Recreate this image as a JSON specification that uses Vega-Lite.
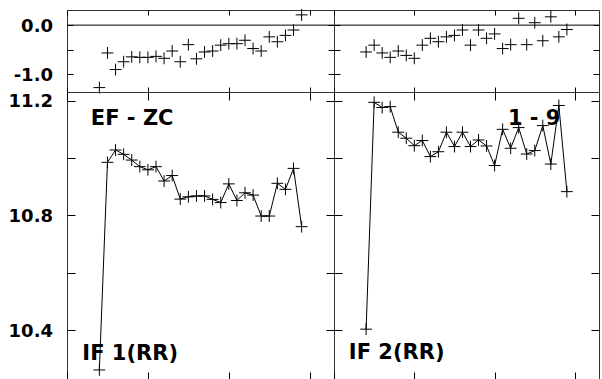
{
  "$schema": "https://vega.github.io/schema/vega-lite/v6.json",
  "background": "white",
  "padding": {"left": 7, "top": 6, "right": 2, "bottom": 0},
  "columns": 2,
  "spacing": 0,
  "bounds": "flush",
  "config": {
    "view": {"stroke": "#333", "strokeWidth": 1},
    "axis": {"domain": false, "grid": false, "tickColor": "black", "tickWidth": 1, "labelFont": "DejaVu Sans", "labelFontWeight": "bold", "labelFontSize": 18, "labelColor": "black", "minExtent": 0, "labelOverlap": false, "labelFlush": false}
  },
  "datasets": {
    "tl": [
      {"x": 4, "y": -1.28}, {"x": 5, "y": -0.57}, {"x": 6, "y": -0.91}, {"x": 7, "y": -0.75}, {"x": 8, "y": -0.65},
      {"x": 9, "y": -0.66}, {"x": 10, "y": -0.66}, {"x": 11, "y": -0.64}, {"x": 12, "y": -0.68}, {"x": 13, "y": -0.53},
      {"x": 14, "y": -0.75}, {"x": 15, "y": -0.40}, {"x": 16, "y": -0.69}, {"x": 17, "y": -0.55}, {"x": 18, "y": -0.53},
      {"x": 19, "y": -0.41}, {"x": 20, "y": -0.38}, {"x": 21, "y": -0.38}, {"x": 22, "y": -0.31}, {"x": 23, "y": -0.48},
      {"x": 24, "y": -0.53}, {"x": 25, "y": -0.24}, {"x": 26, "y": -0.34}, {"x": 27, "y": -0.21}, {"x": 28, "y": -0.10},
      {"x": 29, "y": 0.21}
    ],
    "tr": [
      {"x": 4, "y": -0.55}, {"x": 5, "y": -0.41}, {"x": 6, "y": -0.57}, {"x": 7, "y": -0.66}, {"x": 8, "y": -0.53},
      {"x": 9, "y": -0.62}, {"x": 10, "y": -0.68}, {"x": 11, "y": -0.41}, {"x": 12, "y": -0.27}, {"x": 13, "y": -0.34},
      {"x": 14, "y": -0.24}, {"x": 15, "y": -0.21}, {"x": 16, "y": -0.10}, {"x": 17, "y": -0.41}, {"x": 18, "y": -0.10},
      {"x": 19, "y": -0.27}, {"x": 20, "y": -0.18}, {"x": 21, "y": -0.48}, {"x": 22, "y": -0.40}, {"x": 23, "y": 0.14},
      {"x": 24, "y": -0.40}, {"x": 25, "y": 0.05}, {"x": 26, "y": -0.32}, {"x": 27, "y": 0.17}, {"x": 28, "y": -0.24},
      {"x": 29, "y": -0.09}
    ],
    "bl": [
      {"x": 4, "y": 10.262}, {"x": 5, "y": 10.985}, {"x": 6, "y": 11.028}, {"x": 7, "y": 11.013}, {"x": 8, "y": 10.993},
      {"x": 9, "y": 10.970}, {"x": 10, "y": 10.959}, {"x": 11, "y": 10.970}, {"x": 12, "y": 10.920}, {"x": 13, "y": 10.939},
      {"x": 14, "y": 10.857}, {"x": 15, "y": 10.865}, {"x": 16, "y": 10.868}, {"x": 17, "y": 10.868}, {"x": 18, "y": 10.856},
      {"x": 19, "y": 10.845}, {"x": 20, "y": 10.910}, {"x": 21, "y": 10.852}, {"x": 22, "y": 10.879}, {"x": 23, "y": 10.871},
      {"x": 24, "y": 10.798}, {"x": 25, "y": 10.798}, {"x": 26, "y": 10.912}, {"x": 27, "y": 10.891}, {"x": 28, "y": 10.964},
      {"x": 29, "y": 10.761}
    ],
    "br": [
      {"x": 4, "y": 10.404}, {"x": 5, "y": 11.194}, {"x": 6, "y": 11.176}, {"x": 7, "y": 11.179}, {"x": 8, "y": 11.090},
      {"x": 9, "y": 11.069}, {"x": 10, "y": 11.043}, {"x": 11, "y": 11.061}, {"x": 12, "y": 11.005}, {"x": 13, "y": 11.022},
      {"x": 14, "y": 11.090}, {"x": 15, "y": 11.040}, {"x": 16, "y": 11.090}, {"x": 17, "y": 11.040}, {"x": 18, "y": 11.063},
      {"x": 19, "y": 11.042}, {"x": 20, "y": 10.974}, {"x": 21, "y": 11.100}, {"x": 22, "y": 11.034}, {"x": 23, "y": 11.106},
      {"x": 24, "y": 11.014}, {"x": 25, "y": 11.026}, {"x": 26, "y": 11.113}, {"x": 27, "y": 10.979}, {"x": 28, "y": 11.183},
      {"x": 29, "y": 10.883}
    ],
    "one": [{"k": 1}]
  },
  "concat": [
    {
      "width": 267, "height": 82,
      "resolve": {"axis": {"x": "independent", "y": "independent"}},
      "layer": [
        {
          "data": {"name": "tl"},
          "mark": {"type": "point", "shape": "M-1,0L1,0M0,-1L0,1", "size": 140, "filled": false, "stroke": "black", "strokeWidth": 1, "opacity": 1},
          "encoding": {
            "x": {"field": "x", "type": "quantitative", "scale": {"domain": [0, 33], "nice": false, "zero": false}, "axis": {"orient": "bottom", "values": [0, 10, 20, 30], "labels": false, "tickSize": -5, "title": null}},
            "y": {"field": "y", "type": "quantitative", "scale": {"domain": [-1.37, 0.31], "nice": false, "zero": false}, "axis": {"orient": "left", "values": [-1, -0.5, 0], "labelExpr": "datum.value == 0 ? '0.0' : datum.value == -1 ? '-1.0' : ''", "tickSize": -6, "labelPadding": 20.5, "labelOffset": 1.5, "title": null}}
          }
        },
        {
          "data": {"name": "one"},
          "mark": {"type": "rule", "color": "black", "strokeWidth": 1},
          "encoding": {
            "x": {"datum": 0, "type": "quantitative", "scale": {"domain": [0, 33], "nice": false, "zero": false}, "axis": {"orient": "top", "values": [0, 10, 20, 30], "labels": false, "tickSize": -5, "title": null}},
            "x2": {"datum": 33},
            "y": {"datum": 0, "type": "quantitative", "scale": {"domain": [-1.37, 0.31], "nice": false, "zero": false}, "axis": {"orient": "right", "values": [-1, -0.5, 0], "labels": false, "tickSize": -6, "title": null}}
          }
        }
      ]
    },
    {
      "width": 265, "height": 82,
      "resolve": {"axis": {"x": "independent", "y": "independent"}},
      "layer": [
        {
          "data": {"name": "tr"},
          "mark": {"type": "point", "shape": "M-1,0L1,0M0,-1L0,1", "size": 140, "filled": false, "stroke": "black", "strokeWidth": 1, "opacity": 1},
          "encoding": {
            "x": {"field": "x", "type": "quantitative", "scale": {"domain": [0, 33], "nice": false, "zero": false}, "axis": {"orient": "bottom", "values": [0, 10, 20, 30], "labels": false, "tickSize": -5, "title": null}},
            "y": {"field": "y", "type": "quantitative", "scale": {"domain": [-1.37, 0.31], "nice": false, "zero": false}, "axis": {"orient": "left", "values": [-1, -0.5, 0], "labels": false, "tickSize": -6, "title": null}}
          }
        },
        {
          "data": {"name": "one"},
          "mark": {"type": "rule", "color": "black", "strokeWidth": 1},
          "encoding": {
            "x": {"datum": 0, "type": "quantitative", "scale": {"domain": [0, 33], "nice": false, "zero": false}, "axis": {"orient": "top", "values": [0, 10, 20, 30], "labels": false, "tickSize": -5, "title": null}},
            "x2": {"datum": 33},
            "y": {"datum": 0, "type": "quantitative", "scale": {"domain": [-1.37, 0.31], "nice": false, "zero": false}, "axis": {"orient": "right", "values": [-1, -0.5, 0], "labels": false, "tickSize": -6, "title": null}}
          }
        }
      ]
    },
    {
      "width": 267, "height": 288,
      "resolve": {"axis": {"x": "independent", "y": "independent"}},
      "layer": [
        {
          "data": {"name": "bl"},
          "mark": {"type": "line", "color": "black", "strokeWidth": 1},
          "encoding": {
            "x": {"field": "x", "type": "quantitative", "scale": {"domain": [0, 33], "nice": false, "zero": false}, "axis": {"orient": "bottom", "values": [0, 10, 20, 30], "labels": false, "tickSize": -8, "title": null}},
            "y": {"field": "y", "type": "quantitative", "scale": {"domain": [10.227, 11.23], "nice": false, "zero": false}, "axis": {"orient": "left", "values": [10.4, 10.6, 10.8, 11.0, 11.2], "labelExpr": "datum.value == 10.4 ? '10.4' : datum.value == 10.8 ? '10.8' : datum.value == 11.2 ? '11.2' : ''", "tickSize": -8, "labelPadding": 22.5, "labelOffset": 1, "title": null}}
          }
        },
        {
          "data": {"name": "bl"},
          "mark": {"type": "point", "shape": "M-1,0L1,0M0,-1L0,1", "size": 140, "filled": false, "stroke": "black", "strokeWidth": 1, "opacity": 1},
          "encoding": {
            "x": {"field": "x", "type": "quantitative", "scale": {"domain": [0, 33], "nice": false, "zero": false}, "axis": {"orient": "top", "values": [0, 10, 20, 30], "labels": false, "tickSize": -8, "title": null}},
            "y": {"field": "y", "type": "quantitative", "scale": {"domain": [10.227, 11.23], "nice": false, "zero": false}, "axis": {"orient": "right", "values": [10.4, 10.6, 10.8, 11.0, 11.2], "labels": false, "tickSize": -8, "title": null}}
          }
        },
        {
          "data": {"name": "one"},
          "mark": {"type": "text", "text": "EF - ZC", "font": "DejaVu Sans", "fontWeight": "bold", "fontSize": 21, "align": "left", "baseline": "alphabetic", "color": "black"},
          "encoding": {
            "x": {"datum": 2.95, "type": "quantitative", "scale": {"domain": [0, 33], "nice": false, "zero": false}, "axis": null},
            "y": {"datum": 11.115, "type": "quantitative", "scale": {"domain": [10.227, 11.23], "nice": false, "zero": false}, "axis": null}
          }
        },
        {
          "data": {"name": "one"},
          "mark": {"type": "text", "text": "IF 1(RR)", "font": "DejaVu Sans", "fontWeight": "bold", "fontSize": 21, "align": "left", "baseline": "alphabetic", "color": "black"},
          "encoding": {
            "x": {"datum": 1.9, "type": "quantitative", "scale": {"domain": [0, 33], "nice": false, "zero": false}, "axis": null},
            "y": {"datum": 10.297, "type": "quantitative", "scale": {"domain": [10.227, 11.23], "nice": false, "zero": false}, "axis": null}
          }
        }
      ]
    },
    {
      "width": 265, "height": 288,
      "resolve": {"axis": {"x": "independent", "y": "independent"}},
      "layer": [
        {
          "data": {"name": "br"},
          "mark": {"type": "line", "color": "black", "strokeWidth": 1},
          "encoding": {
            "x": {"field": "x", "type": "quantitative", "scale": {"domain": [0, 33], "nice": false, "zero": false}, "axis": {"orient": "bottom", "values": [0, 10, 20, 30], "labels": false, "tickSize": -8, "title": null}},
            "y": {"field": "y", "type": "quantitative", "scale": {"domain": [10.227, 11.23], "nice": false, "zero": false}, "axis": {"orient": "left", "values": [10.4, 10.6, 10.8, 11.0, 11.2], "labels": false, "tickSize": -8, "title": null}}
          }
        },
        {
          "data": {"name": "br"},
          "mark": {"type": "point", "shape": "M-1,0L1,0M0,-1L0,1", "size": 140, "filled": false, "stroke": "black", "strokeWidth": 1, "opacity": 1},
          "encoding": {
            "x": {"field": "x", "type": "quantitative", "scale": {"domain": [0, 33], "nice": false, "zero": false}, "axis": {"orient": "top", "values": [0, 10, 20, 30], "labels": false, "tickSize": -8, "title": null}},
            "y": {"field": "y", "type": "quantitative", "scale": {"domain": [10.227, 11.23], "nice": false, "zero": false}, "axis": {"orient": "right", "values": [10.4, 10.6, 10.8, 11.0, 11.2], "labels": false, "tickSize": -8, "title": null}}
          }
        },
        {
          "data": {"name": "one"},
          "mark": {"type": "text", "text": "1 - 9", "font": "DejaVu Sans", "fontWeight": "bold", "fontSize": 21, "align": "right", "baseline": "alphabetic", "color": "black"},
          "encoding": {
            "x": {"datum": 28.2, "type": "quantitative", "scale": {"domain": [0, 33], "nice": false, "zero": false}, "axis": null},
            "y": {"datum": 11.115, "type": "quantitative", "scale": {"domain": [10.227, 11.23], "nice": false, "zero": false}, "axis": null}
          }
        },
        {
          "data": {"name": "one"},
          "mark": {"type": "text", "text": "IF 2(RR)", "font": "DejaVu Sans", "fontWeight": "bold", "fontSize": 21, "align": "left", "baseline": "alphabetic", "color": "black"},
          "encoding": {
            "x": {"datum": 1.85, "type": "quantitative", "scale": {"domain": [0, 33], "nice": false, "zero": false}, "axis": null},
            "y": {"datum": 10.3, "type": "quantitative", "scale": {"domain": [10.227, 11.23], "nice": false, "zero": false}, "axis": null}
          }
        }
      ]
    }
  ]
}
